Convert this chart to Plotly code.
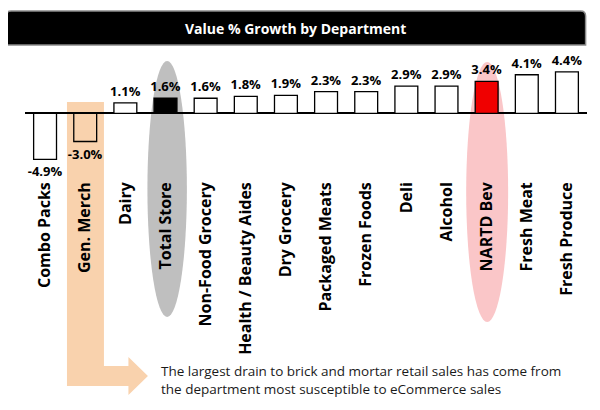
import plotly.graph_objects as go

# ---- data ----
departments = ["Combo Packs", "Gen. Merch", "Dairy", "Total Store", "Non-Food Grocery",
               "Health / Beauty Aides", "Dry Grocery", "Packaged Meats", "Frozen Foods",
               "Deli", "Alcohol", "NARTD Bev", "Fresh Meat", "Fresh Produce"]
growth = [-4.9, -3.0, 1.1, 1.6, 1.6, 1.8, 1.9, 2.3, 2.3, 2.9, 2.9, 3.4, 4.1, 4.4]
title_text = "Value % Growth by Department"
note_lines = ["The largest drain to brick and mortar retail sales has come from",
              "the department most susceptible to eCommerce sales"]

# ---- layout geometry (page pixels; the page body adds an 8px offset) ----
OFF = 8
W, H = 600 - OFF, 410 - OFF
PLOT_L, PLOT_R, PLOT_T, PLOT_B = 25, 587.4, 55, 178   # in page pixels
ML, MT = PLOT_L - OFF, PLOT_T - OFF
MR = W - (PLOT_R - OFF)
MB = H - (PLOT_B - OFF)
PW, PH = PLOT_R - PLOT_L, PLOT_B - PLOT_T

def px(x):
    return (x - PLOT_L) / PW

def py(y):
    return (PLOT_B - y) / PH

fill = []
for d in departments:
    if d == "Total Store":
        fill.append("#000000")
    elif d == "NARTD Bev":
        fill.append("#f00000")
    elif d == "Gen. Merch":
        fill.append("rgba(255,255,255,0)")
    else:
        fill.append("#ffffff")

FONT = "Open Sans"

fig = go.Figure()
fig.add_trace(go.Bar(
    x=departments, y=growth,
    marker=dict(color=fill, line=dict(color="#000000", width=1.3)),
    texttemplate="%{y:.1f}%", textposition="outside", constraintext="none",
    textfont=dict(family=FONT, size=13, color="#000000", weight="bold"),
    cliponaxis=False, hoverinfo="skip",
))

shapes = []
# title bar (rounded rect)
x0, x1, y0, y1, r = 6, 586, 11, 45, 5
path = (f"M {px(x0+r)} {py(y0)} L {px(x1-r)} {py(y0)} Q {px(x1)} {py(y0)} {px(x1)} {py(y0+r)} "
        f"L {px(x1)} {py(y1)} L {px(x0)} {py(y1)} L {px(x0)} {py(y0+r)} Q {px(x0)} {py(y0)} {px(x0+r)} {py(y0)} Z")
shapes.append(dict(type="path", xref="paper", yref="paper", path=path,
                   fillcolor="#000000", line=dict(color="#8a8a8a", width=1.5), layer="above"))
# highlight ellipses
shapes.append(dict(type="circle", xref="paper", yref="paper",
                   x0=px(147.5), x1=px(187), y0=py(317), y1=py(61),
                   fillcolor="#bfbfbf", line=dict(width=0), layer="below"))
shapes.append(dict(type="circle", xref="paper", yref="paper",
                   x0=px(466.5), x1=px(508.5), y0=py(322), y1=py(62),
                   fillcolor="#fac6c8", line=dict(width=0), layer="below"))
# orange L-arrow
pts = [(67, 102), (104, 102), (104, 366), (128.5, 366), (128.5, 357), (148, 376),
       (128.5, 395), (128.5, 386), (67, 386)]
arrow = "M " + " L ".join(f"{px(a)} {py(b)}" for a, b in pts) + " Z"
shapes.append(dict(type="path", xref="paper", yref="paper", path=arrow,
                   fillcolor="#f9d2ad", line=dict(width=0), layer="below"))

annotations = [
    dict(xref="paper", yref="paper", x=px(296), y=py(28.5), text=title_text,
         showarrow=False, xanchor="center", yanchor="middle",
         font=dict(family=FONT, size=14, color="#ffffff", weight="bold")),
    dict(xref="paper", yref="paper", x=px(159), y=py(379.5), text="<br>".join(note_lines),
         showarrow=False, xanchor="left", yanchor="middle", align="left",
         font=dict(family=FONT, size=13.5, color="#1a1a1a")),
]

fig.update_layout(
    width=W, height=H,
    margin=dict(l=ML, r=MR, t=MT, b=MB, autoexpand=False),
    paper_bgcolor="#ffffff", plot_bgcolor="rgba(0,0,0,0)",
    bargap=0.43, showlegend=False,
    shapes=shapes, annotations=annotations,
    xaxis=dict(type="category", range=[-0.5, len(departments) - 0.5], showgrid=False,
               showline=False, zeroline=False, ticks="", tickangle=-90, automargin=False,
               tickfont=dict(family=FONT, size=16, color="#000000", weight="bold")),
    yaxis=dict(range=[-6.88, 6.2], showgrid=False, showline=False, showticklabels=False,
               zeroline=True, zerolinecolor="#000000", zerolinewidth=1.5, automargin=False),
)

fig.write_html("out.html")
